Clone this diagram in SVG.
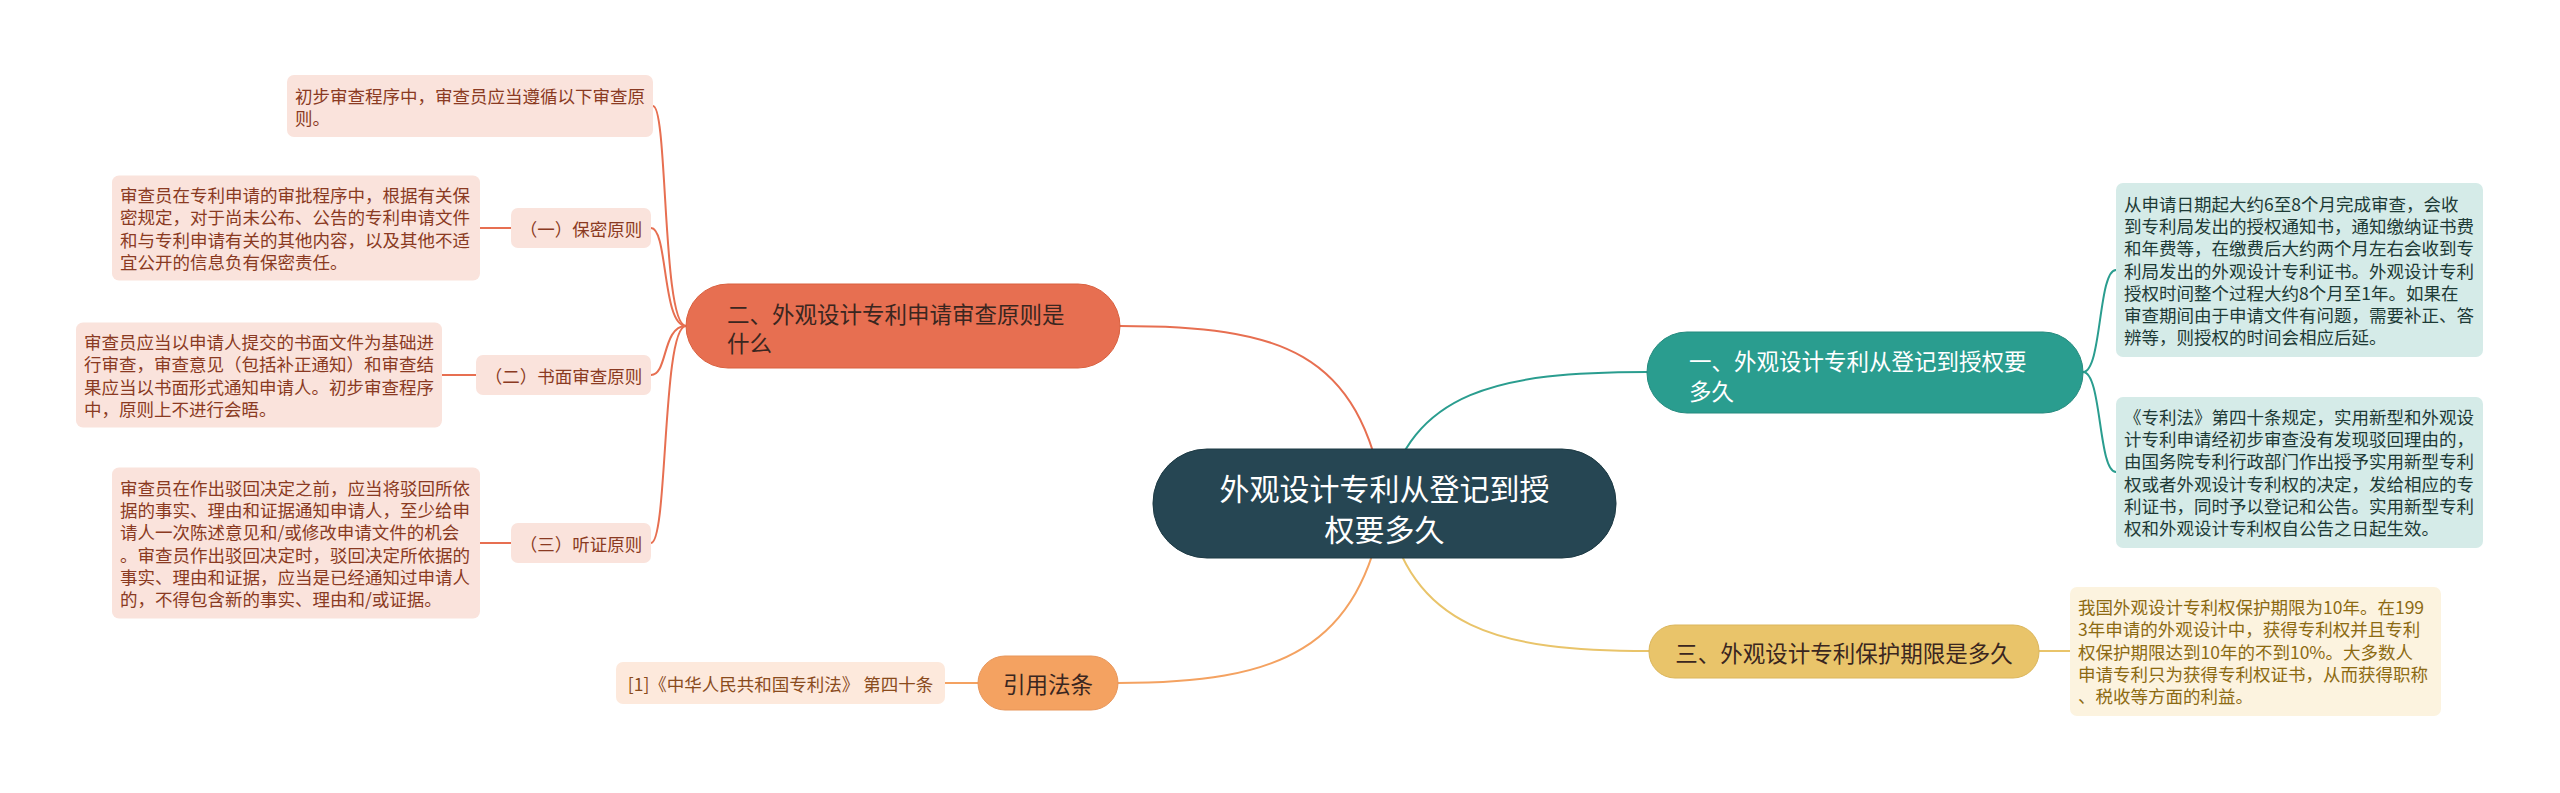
<svg xmlns="http://www.w3.org/2000/svg" width="2560" height="793" viewBox="0 0 2560 793">
<style>
text{font-family:"Noto Sans CJK SC","Noto Sans",sans-serif;dominant-baseline:central}
.d{font-size:17.5px}
.lr{fill:#fae3dc}
.lt{fill:#8a3a22}
.tr{fill:#d5ebe8}
.tt{fill:#1d3a36}
.yr{fill:#fcf3df}
.yt{fill:#8c6a12}
.cr{fill:#fde9dc}
.ct{fill:#8a4b1c}
.b{font-size:22.5px}
.c{stroke-width:2;fill:none}
</style>
<rect width="2560" height="793" fill="#ffffff"/>
<g id="connectors">
<path class="c" stroke="#e76f51" d="M1385,503 C1360,350 1280,326 1120,326"/>
<path class="c" stroke="#2a9d8f" d="M1385,503 C1410,390 1500,372 1647,372"/>
<path class="c" stroke="#e9c46a" d="M1385,503 C1410,630 1500,651 1649,651"/>
<path class="c" stroke="#f4a261" d="M1385,503 C1360,650 1280,683 1118,683"/>
<path class="c" stroke="#e76f51" d="M686,326 C662,326 668,106 653,106"/>
<path class="c" stroke="#e76f51" d="M686,326 C662,326 668,228 651,228"/>
<path class="c" stroke="#e76f51" d="M686,326 C662,326 668,375 651,375"/>
<path class="c" stroke="#e76f51" d="M686,326 C662,326 668,543 651,543"/>
<path class="c" stroke="#e76f51" d="M511,228 L480,228"/>
<path class="c" stroke="#e76f51" d="M476,375 L442,375"/>
<path class="c" stroke="#e76f51" d="M511,543 L480,543"/>
<path class="c" stroke="#f4a261" d="M978,683 L945,683"/>
<path class="c" stroke="#2a9d8f" d="M2083,372 C2102,372 2098,270 2116,270"/>
<path class="c" stroke="#2a9d8f" d="M2083,372 C2102,372 2098,472 2116,472"/>
<path class="c" stroke="#e9c46a" d="M2039,651 L2070,651"/>
</g>
<g id="root">
<rect x="1153" y="449" width="463" height="109" rx="54" fill="#264653" stroke="#1d3a44" stroke-width="1"/>
<text x="1384.5" y="487" font-size="30" fill="#ffffff" text-anchor="middle">外观设计专利从登记到授</text>
<text x="1384.5" y="528" font-size="30" fill="#ffffff" text-anchor="middle">权要多久</text>
</g>
<g id="branch2">
<rect x="686" y="284" width="434" height="84" rx="42" fill="#e76f51" stroke="#d9603f" stroke-width="1"/>
<text class="b" x="727" y="313" fill="#3a2620">二、外观设计专利申请审查原则是</text>
<text class="b" x="727" y="342" fill="#3a2620">什么</text>
</g>
<g id="detail-intro">
<rect class="lr" x="287" y="75" width="366" height="62" rx="7"/>
<text class="d lt" x="295" y="95">初步审查程序中，审查员应当遵循以下审查原</text>
<text class="d lt" x="295" y="117">则。</text>
</g>
<g id="sub1">
<rect class="lr" x="511" y="208" width="140" height="40" rx="7"/>
<text class="d lt" x="581" y="228" text-anchor="middle">（一）保密原则</text>
</g>
<g id="detail1">
<rect class="lr" x="112" y="175.5" width="368" height="105" rx="7"/>
<text class="d lt" x="120" y="194.7">审查员在专利申请的审批程序中，根据有关保</text>
<text class="d lt" x="120" y="216.9">密规定，对于尚未公布、公告的专利申请文件</text>
<text class="d lt" x="120" y="239.1">和与专利申请有关的其他内容，以及其他不适</text>
<text class="d lt" x="120" y="261.3">宜公开的信息负有保密责任。</text>
</g>
<g id="sub2">
<rect class="lr" x="476" y="355" width="175" height="40" rx="7"/>
<text class="d lt" x="563.5" y="375" text-anchor="middle">（二）书面审查原则</text>
</g>
<g id="detail2">
<rect class="lr" x="76" y="322.5" width="366" height="105" rx="7"/>
<text class="d lt" x="84" y="341.7">审查员应当以申请人提交的书面文件为基础进</text>
<text class="d lt" x="84" y="363.9">行审查，审查意见（包括补正通知）和审查结</text>
<text class="d lt" x="84" y="386.1">果应当以书面形式通知申请人。初步审查程序</text>
<text class="d lt" x="84" y="408.3">中，原则上不进行会晤。</text>
</g>
<g id="sub3">
<rect class="lr" x="511" y="523" width="140" height="40" rx="7"/>
<text class="d lt" x="581" y="543" text-anchor="middle">（三）听证原则</text>
</g>
<g id="detail3">
<rect class="lr" x="112" y="467.4" width="368" height="151.2" rx="7"/>
<text class="d lt" x="120" y="487.5">审查员在作出驳回决定之前，应当将驳回所依</text>
<text class="d lt" x="120" y="509.7">据的事实、理由和证据通知申请人，至少给申</text>
<text class="d lt" x="120" y="531.9">请人一次陈述意见和/或修改申请文件的机会</text>
<text class="d lt" x="120" y="554.1">。审查员作出驳回决定时，驳回决定所依据的</text>
<text class="d lt" x="120" y="576.3">事实、理由和证据，应当是已经通知过申请人</text>
<text class="d lt" x="120" y="598.5">的，不得包含新的事实、理由和/或证据。</text>
</g>
<g id="cite">
<rect x="978" y="656" width="140" height="54" rx="27" fill="#f4a261" stroke="#e8965a" stroke-width="1"/>
<text class="b" x="1048" y="683" fill="#3a2620" text-anchor="middle">引用法条</text>
</g>
<g id="cite-detail">
<rect class="cr" x="616" y="662" width="329" height="42" rx="7"/>
<text class="d ct" x="780.5" y="683" text-anchor="middle">[1]《中华人民共和国专利法》 第四十条</text>
</g>
<g id="branch1">
<rect x="1647" y="332" width="436" height="81" rx="40" fill="#2a9d8f" stroke="#248a7e" stroke-width="1"/>
<text class="b" x="1689" y="360" fill="#ffffff">一、外观设计专利从登记到授权要</text>
<text class="b" x="1689" y="390" fill="#ffffff">多久</text>
</g>
<g id="detail-t1">
<rect class="tr" x="2116" y="183" width="367" height="174" rx="7"/>
<text class="d tt" x="2124" y="203.4">从申请日期起大约6至8个月完成审查，会收</text>
<text class="d tt" x="2124" y="225.6">到专利局发出的授权通知书，通知缴纳证书费</text>
<text class="d tt" x="2124" y="247.8">和年费等，在缴费后大约两个月左右会收到专</text>
<text class="d tt" x="2124" y="270">利局发出的外观设计专利证书。外观设计专利</text>
<text class="d tt" x="2124" y="292.2">授权时间整个过程大约8个月至1年。如果在</text>
<text class="d tt" x="2124" y="314.4">审查期间由于申请文件有问题，需要补正、答</text>
<text class="d tt" x="2124" y="336.6">辨等，则授权的时间会相应后延。</text>
</g>
<g id="detail-t2">
<rect class="tr" x="2116" y="397" width="367" height="151" rx="7"/>
<text class="d tt" x="2124" y="416.5">《专利法》第四十条规定，实用新型和外观设</text>
<text class="d tt" x="2124" y="438.7">计专利申请经初步审查没有发现驳回理由的，</text>
<text class="d tt" x="2124" y="460.9">由国务院专利行政部门作出授予实用新型专利</text>
<text class="d tt" x="2124" y="483.1">权或者外观设计专利权的决定，发给相应的专</text>
<text class="d tt" x="2124" y="505.3">利证书，同时予以登记和公告。实用新型专利</text>
<text class="d tt" x="2124" y="527.5">权和外观设计专利权自公告之日起生效。</text>
</g>
<g id="branch3">
<rect x="1649" y="625" width="390" height="53" rx="26" fill="#e9c46a" stroke="#dbb65c" stroke-width="1"/>
<text class="b" x="1844" y="651.5" fill="#3a2620" text-anchor="middle">三、外观设计专利保护期限是多久</text>
</g>
<g id="detail-y">
<rect class="yr" x="2070" y="587" width="371" height="129" rx="7"/>
<text class="d yt" x="2078" y="606.6">我国外观设计专利权保护期限为10年。在199</text>
<text class="d yt" x="2078" y="628.8">3年申请的外观设计中，获得专利权并且专利</text>
<text class="d yt" x="2078" y="651">权保护期限达到10年的不到10%。大多数人</text>
<text class="d yt" x="2078" y="673.2">申请专利只为获得专利权证书，从而获得职称</text>
<text class="d yt" x="2078" y="695.4">、税收等方面的利益。</text>
</g>
</svg>
